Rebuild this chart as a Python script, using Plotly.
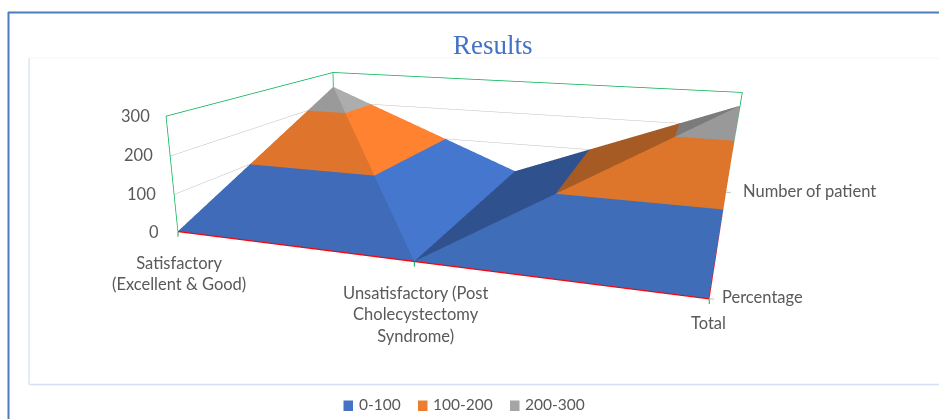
import numpy as np
import plotly.graph_objects as go

# Chart data
categories = ["Satisfactory<br>(Excellent &amp; Good)", "Unsatisfactory (Post<br>Cholecystectomy<br>Syndrome)", "Total"]
series_names = ["Percentage", "Number of patient"]
percentage = [0.96, 0.04, 1.0]
number_of_patient = [252, 10, 262]
z_ticks = [0, 100, 200, 300]
band_names = ["0-100", "100-200", "200-300"]
band_edges = [(0, 100), (100, 200), (200, 300)]

# Facet colours per triangle of the surface, one shade per value band
facet_colors = [
    ["#3F6BB8", "#DF752C", "#9A9A9A"],
    ["#4677CE", "#FF8230", "#ADADAD"],
    ["#2F528F", "#A65A24", "#7B7B7B"],
    ["#3F6DB8", "#DD752B", "#999999"],
]
legend_colors = ["#4472C4", "#ED7D31", "#A5A5A5"]

# Camera and page geometry of the 3D scene
EYE = np.array([0.4932, -1.7549, 0.3783])
CENTER = np.array([-0.034, -0.445, -0.2718])
ASPECT = np.array([1.0, 0.7459, 0.2242])
FOCAL, CX, CY = 857.5, 381.7, 355.2
PW, PH = 939, 711
VIEW_H = 2 * FOCAL * np.tan(np.pi / 8)
dom_x = [0, 2 * CX / PW]
dom_y = [(PH - CY - VIEW_H / 2) / PH, min(1, (PH - CY + VIEW_H / 2) / PH)]


def px(v):
    return v / PW


def py(v):
    return 1 - v / PH


def project(p):
    """Pixel position of a point given in unit-box scene coordinates."""
    w = (np.asarray(p, float) - 0.5) * ASPECT
    f = CENTER - EYE
    f = f / np.linalg.norm(f)
    r = np.cross(f, [0, 0, 1.0])
    r = r / np.linalg.norm(r)
    u = np.cross(r, f)
    d = w - EYE
    return CX + FOCAL * (d @ r) / (d @ f), CY - FOCAL * (d @ u) / (d @ f)


def clip_band(poly, lo, hi):
    """Clip a polygon to the slab lo <= z <= hi."""
    for bound, sign in ((lo, 1), (hi, -1)):
        out = []
        for i in range(len(poly)):
            a = np.array(poly[i], float)
            b = np.array(poly[(i + 1) % len(poly)], float)
            da, db = sign * (a[2] - bound), sign * (b[2] - bound)
            if da >= 0:
                out.append(a)
            if da * db < 0:
                out.append(a + (b - a) * da / (da - db))
        poly = out
        if not poly:
            return []
    return poly


# Two triangles per grid cell, split into the value bands
values = [percentage, number_of_patient]
triangles = [((0, 0), (1, 0), (0, 1)), ((1, 0), (0, 1), (1, 1)),
             ((1, 0), (1, 1), (2, 1)), ((1, 0), (2, 0), (2, 1))]
X, Y, Z, I, J, K, FC = [], [], [], [], [], [], []
for fi, tri in enumerate(triangles):
    corners = [(c, s, values[s][c]) for c, s in tri]
    for bi, (lo, hi) in enumerate(band_edges):
        poly = clip_band(corners, lo, hi)
        if len(poly) < 3:
            continue
        n = len(X)
        for p in poly:
            X.append(float(p[0]))
            Y.append(float(p[1]))
            Z.append(float(p[2]))
        for t in range(1, len(poly) - 1):
            I.append(n)
            J.append(n + t)
            K.append(n + t + 1)
            FC.append(facet_colors[fi][bi])

fig = go.Figure()
fig.add_trace(go.Mesh3d(x=X, y=Y, z=Z, i=I, j=J, k=K, facecolor=FC, flatshading=True,
                        lighting=dict(ambient=1, diffuse=0, specular=0, fresnel=0, roughness=1),
                        hoverinfo="skip"))


def line3d(xs, ys, zs, color, width=1):
    fig.add_trace(go.Scatter3d(x=xs, y=ys, z=zs, mode="lines", line=dict(color=color, width=width),
                               hoverinfo="skip", showlegend=False))


ZMAX = z_ticks[-1]
line3d([0, 0, 0, 2, 2], [0, 0, 1, 1, 1], [0, ZMAX, ZMAX, ZMAX, 0], "#00B050", 1.5)
line3d([0, 0], [1, 1], [0, ZMAX], "#00B050", 1.5)
line3d([0, 2, 2, 0], [0, 0, 1, 1], [0, 0, 0, 0], "#FF0000", 2.5)
for v in z_ticks[1:3]:
    line3d([0, 0, 2], [0, 1, 1], [v, v, v], "#BFBFBF")

# Frame, plot-area outline, axis ticks and legend swatches
shapes = []


def seg(x0, y0, x1, y1, color, width=1):
    shapes.append(dict(type="line", xref="paper", yref="paper", x0=px(x0), y0=py(y0), x1=px(x1), y1=py(y1),
                       line=dict(color=color, width=width)))


seg(8.5, 12, 8.5, PH, "#4A7EBB", 2)
seg(8, 12.5, PW, 12.5, "#4A7EBB", 2)
seg(29, 58, 29, 384.5, "#DCE6F7", 1.5)
seg(29, 384.5, PW, 384.5, "#D3E0F5", 1.5)
seg(29, 58, PW, 58, "#F5F5F5", 1)
for cat_pos in (0, 0.5, 1):
    ax0, ay0 = project((cat_pos, 0, 0))
    seg(ax0, ay0, ax0, ay0 + 5, "#00B050")
for series_pos in (0, 1):
    ax0, ay0 = project((1, series_pos, 0))
    seg(ax0, ay0, ax0 + 5, ay0, "#BFBFBF")

swatch_x = [343.5, 418, 510]
for sx, c in zip(swatch_x, legend_colors):
    shapes.append(dict(type="rect", xref="paper", yref="paper", x0=px(sx), x1=px(sx + 9.5), y0=py(400.5), y1=py(411),
                       line=dict(width=0), fillcolor=c))

# Text
LABEL = dict(family="Lato", size=16.5, color="#595959")
LEGEND = dict(family="Lato", size=15.5, color="#595959")
ann = []


def text(x, y, s, anchor="center", font=LABEL):
    ann.append(dict(x=px(x), y=py(y), xref="paper", yref="paper", xanchor=anchor, yanchor="middle",
                    text=s, showarrow=False, font=font, align="center"))


text(493, 45, "Results", font=dict(family="Liberation Serif", size=27, color="#4472C4"))
for v, xr, yy in zip(z_ticks[::-1], (152, 155, 158, 161), (116, 155, 194, 232)):
    text(xr, yy, str(v), "right")
text(179, 273, categories[0])
text(415, 315, categories[1])
text(708, 323, categories[2])
text(720, 297, series_names[0], "left")
text(741, 191, series_names[1], "left")
for sx, s in zip(swatch_x, band_names):
    text(sx + 13, 404, s, "left", LEGEND)

hidden_axis = dict(visible=False)
fig.update_layout(
    width=PW, height=PH, margin=dict(l=0, r=0, t=0, b=0), paper_bgcolor="white", showlegend=False,
    shapes=shapes, annotations=ann,
    scene=dict(
        domain=dict(x=dom_x, y=dom_y),
        camera=dict(eye=dict(x=EYE[0], y=EYE[1], z=EYE[2]),
                    center=dict(x=CENTER[0], y=CENTER[1], z=CENTER[2]),
                    up=dict(x=0, y=0, z=1)),
        aspectmode="manual",
        aspectratio=dict(x=ASPECT[0], y=ASPECT[1], z=ASPECT[2]),
        xaxis=dict(hidden_axis, range=[0, 2]),
        yaxis=dict(hidden_axis, range=[0, 1]),
        zaxis=dict(hidden_axis, range=[0, ZMAX]),
        bgcolor="rgba(0,0,0,0)",
    ),
)
fig.write_html("out.html", post_script="document.documentElement.style.overflow='hidden';document.body.style.overflow='hidden';")
